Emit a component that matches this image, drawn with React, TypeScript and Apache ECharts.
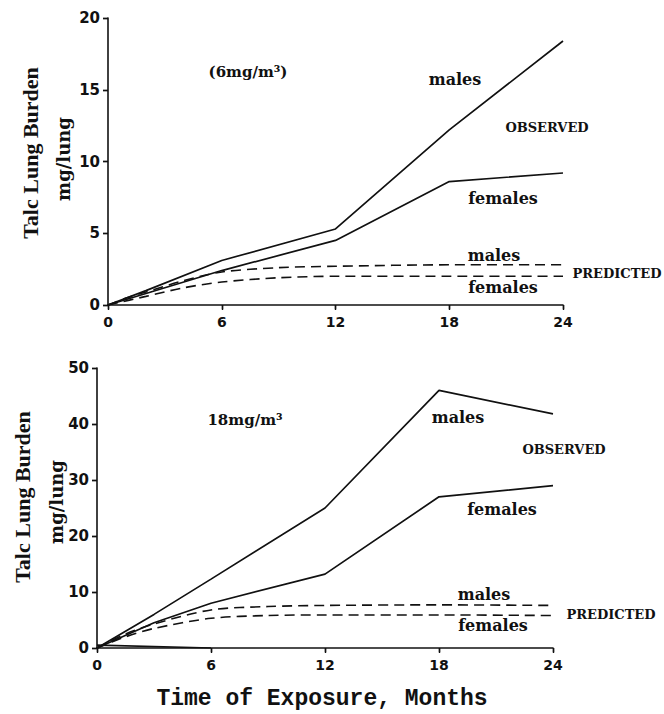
import React, { useEffect, useRef } from "react";
import * as echarts from "echarts";

// ---- data (months, mg/lung) ----
const topMaleObserved = [[0, 0], [2, 1.0], [6, 3.1], [12, 5.3], [18, 12.2], [24, 18.4]];
const topFemaleObserved = [[0, 0], [2, 0.8], [6, 2.4], [12, 4.5], [18, 8.6], [24, 9.2]];
const topMalePredicted = [[0, 0], [1, 0.5], [2, 0.9], [4, 1.7], [6, 2.3], [9, 2.6], [12, 2.7], [18, 2.8], [24, 2.8]];
const topFemalePredicted = [[0, 0], [2, 0.6], [4, 1.2], [6, 1.6], [9, 1.9], [12, 2.0], [18, 2.0], [24, 2.0]];

const botMaleObserved = [[0, 0], [3, 6], [6, 12.3], [12, 25], [18, 46], [24, 41.8]];
const botFemaleObserved = [[0, 0], [3, 4.5], [6, 8.0], [12, 13.2], [18, 27.0], [24, 29.0]];
const botMalePredicted = [[0, 0], [1.5, 2.5], [3, 4.3], [6, 6.8], [9, 7.4], [12, 7.6], [18, 7.7], [24, 7.6]];
const botFemalePredicted = [[0, 0], [1.5, 2.0], [3, 3.5], [6, 5.3], [9, 5.8], [12, 5.9], [18, 5.9], [24, 5.8]];
const botControl = [[0, 0.5], [6, 0]];

const xMax = 24;
const xStep = 6;
const topYMax = 20;
const topYStep = 5;
const botYMax = 50;
const botYStep = 10;

const INK = "#111";

function mainX(gridIndex: number) {
  return {
    type: "value", gridIndex, min: 0, max: xMax, interval: xStep,
    axisLine: { show: true, lineStyle: { color: INK, width: 1.6 } },
    axisTick: { show: true, length: 5, lineStyle: { color: INK, width: 1.4 } },
    axisLabel: { color: INK, fontFamily: "DejaVu Sans", fontWeight: "bold", fontSize: 14, margin: 10 },
    splitLine: { show: false },
  };
}
function innerX(gridIndex: number) {
  return {
    type: "value", gridIndex, min: 0, max: xMax, interval: xStep,
    axisLine: { show: false },
    axisTick: { show: true, inside: true, length: 4, lineStyle: { color: INK, width: 1.4 } },
    axisLabel: { show: false },
    splitLine: { show: false },
  };
}
function mainY(gridIndex: number, max: number, step: number) {
  return {
    type: "value", gridIndex, min: 0, max, interval: step,
    axisLine: { show: true, lineStyle: { color: INK, width: 1.6 } },
    axisTick: { show: true, length: 5, lineStyle: { color: INK, width: 1.4 } },
    axisLabel: { color: INK, fontFamily: "DejaVu Sans", fontWeight: "bold", fontSize: 15, margin: 8 },
    splitLine: { show: false },
  };
}
function innerY(gridIndex: number, max: number, step: number) {
  return {
    type: "value", gridIndex, min: 0, max, interval: step,
    axisLine: { show: false },
    axisTick: { show: true, inside: true, length: 5, lineStyle: { color: INK, width: 1.4 } },
    axisLabel: { show: false },
    splitLine: { show: false },
  };
}

function solid(name: string, data: number[][], xi: number, yi: number) {
  return {
    name, type: "line", data, xAxisIndex: xi, yAxisIndex: yi,
    symbol: "none", lineStyle: { color: INK, width: 1.7, type: "solid" },
  };
}
function dashed(name: string, data: number[][], xi: number, yi: number) {
  return {
    name, type: "line", data, xAxisIndex: xi, yAxisIndex: yi, smooth: 0.3,
    symbol: "none", lineStyle: { color: INK, width: 1.6, type: [10, 6] },
  };
}

function txt(text: string, x: number, y: number, font: string, rotation = 0) {
  return {
    type: "text", x, y, rotation,
    style: { text, font, fill: INK, textAlign: "center", textVerticalAlign: "middle" },
  };
}

const ANN = 'bold 16px "DejaVu Serif"';
const CAPS = 'bold 13px "DejaVu Serif"';
const YNAME1 = 'bold 22px "Liberation Serif"';
const YNAME2 = 'bold 18px "DejaVu Serif"';

export default function App() {
  const ref = useRef<HTMLDivElement>(null);
  useEffect(() => {
    if (!ref.current) return;
    const chart = echarts.init(ref.current, undefined, { renderer: "svg" });
    chart.setOption({
      animation: false,
      backgroundColor: "#fff",
      grid: [
        { left: 108, right: 101, top: 18, bottom: 409 },
        { left: 97, right: 111, top: 368, bottom: 66 },
      ],
      xAxis: [mainX(0), innerX(0), mainX(1), innerX(1)],
      yAxis: [
        mainY(0, topYMax, topYStep), innerY(0, topYMax, topYStep),
        mainY(1, botYMax, botYStep), innerY(1, botYMax, botYStep),
      ],
      series: [
        solid("males observed 6", topMaleObserved, 0, 0),
        solid("females observed 6", topFemaleObserved, 0, 0),
        dashed("males predicted 6", topMalePredicted, 0, 0),
        dashed("females predicted 6", topFemalePredicted, 0, 0),
        solid("males observed 18", botMaleObserved, 2, 2),
        solid("females observed 18", botFemaleObserved, 2, 2),
        dashed("males predicted 18", botMalePredicted, 2, 2),
        dashed("females predicted 18", botFemalePredicted, 2, 2),
        solid("control 18", botControl, 2, 2),
      ],
      graphic: [
        txt("Talc Lung Burden", 30, 153, YNAME1, Math.PI / 2),
        txt("mg/lung", 63, 159, YNAME2, Math.PI / 2),
        txt("Talc Lung Burden", 22, 497, YNAME1, Math.PI / 2),
        txt("mg/lung", 56, 502, YNAME2, Math.PI / 2),

        txt("(6mg/m³)", 248, 72, 'bold 15px "DejaVu Serif"'),
        txt("males", 455, 79, ANN),
        txt("OBSERVED", 547, 127, CAPS),
        txt("females", 503, 198, ANN),
        txt("males", 494, 255, ANN),
        txt("PREDICTED", 617, 273, CAPS),
        txt("females", 503, 287, ANN),

        txt("18mg/m³", 245, 420, 'bold 15px "DejaVu Serif"'),
        txt("males", 458, 417, ANN),
        txt("OBSERVED", 564, 449, CAPS),
        txt("females", 502, 509, ANN),
        txt("males", 484, 594, ANN),
        txt("PREDICTED", 611, 614, CAPS),
        txt("females", 493, 625, ANN),

        txt("Time of Exposure, Months", 322, 699, 'bold 23px "Liberation Mono"'),
      ],
    });
    return () => chart.dispose();
  }, []);
  return (
    <div
      ref={ref}
      style={{ position: "fixed", left: 0, top: 0, width: 664, height: 714, background: "#fff" }}
    />
  );
}
